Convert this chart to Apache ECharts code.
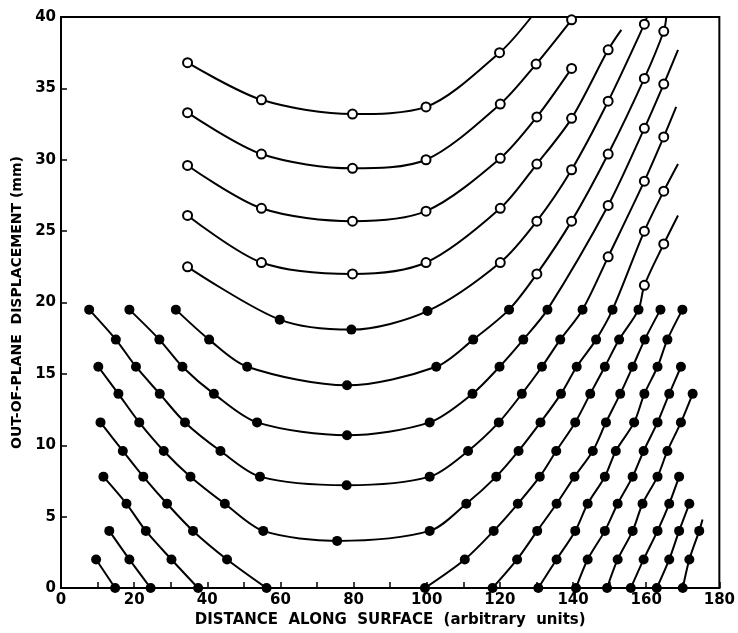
<!DOCTYPE html>
<html>
<head>
<meta charset="utf-8">
<script src="https://cdn.jsdelivr.net/npm/echarts@6/dist/echarts.min.js"></script>
<style>
  html, body { margin: 0; padding: 0; background: #fff; }
  #chart { width: 738px; height: 633px; }
</style>
</head>
<body>
<div id="chart"></div>
<script>
// points, [distance, displacement]
// U-shaped curves (left branch, bottom near 78, right branch)
const u1 = [[34.6, 36.8], [54.8, 34.2], [79.7, 33.2], [99.8, 33.7], [119.9, 37.5]];
const u2 = [[34.6, 33.3], [54.8, 30.4], [79.7, 29.4], [99.8, 30.0], [120.1, 33.9], [129.9, 36.7], [139.6, 39.8]];
const u3 = [[34.6, 29.6], [54.8, 26.6], [79.7, 25.7], [99.8, 26.4], [120.1, 30.1], [130.1, 33.0], [139.6, 36.4]];
const u4 = [[34.6, 26.1], [54.8, 22.8], [79.7, 22.0], [99.8, 22.8], [120.1, 26.6], [130.1, 29.7], [139.6, 32.9], [149.6, 37.7]];
const u5 = [[34.6, 22.5], [59.8, 18.8], [79.4, 18.1], [100.2, 19.4], [120.1, 22.8], [130.1, 25.7], [139.6, 29.3], [149.6, 34.1], [159.5, 39.5]];
const u6 = [[31.4, 19.5], [40.5, 17.4], [50.9, 15.5], [78.2, 14.2], [102.6, 15.5], [112.7, 17.4], [122.5, 19.5],
            [130.1, 22.0], [139.6, 25.7], [149.6, 30.4], [159.5, 35.7], [164.8, 39.0]];
const u7 = [[18.7, 19.5], [26.9, 17.4], [33.2, 15.5], [41.8, 13.6], [53.6, 11.6], [78.2, 10.7], [100.8, 11.6],
            [112.5, 13.6], [119.9, 15.5], [126.4, 17.4], [133.0, 19.5], [149.6, 26.8], [159.5, 32.2], [164.8, 35.3]];
const u8 = [[7.7, 19.5], [15.0, 17.4], [20.5, 15.5], [27.0, 13.6], [33.9, 11.6], [43.6, 9.6], [54.4, 7.8], [78.1, 7.2],
            [100.8, 7.8], [111.3, 9.6], [119.7, 11.6], [126.0, 13.6], [131.5, 15.5], [136.5, 17.4], [142.6, 19.5],
            [149.6, 23.2], [159.5, 28.5], [164.8, 31.6]];
const u9 = [[10.2, 15.5], [15.7, 13.6], [21.4, 11.6], [28.1, 9.6], [35.4, 7.8], [44.8, 5.9], [55.3, 4.0], [75.5, 3.3],
            [100.8, 4.0], [110.8, 5.9], [119.0, 7.8], [125.1, 9.6], [131.1, 11.6], [136.7, 13.6], [141.0, 15.5],
            [146.3, 17.4], [150.8, 19.5], [159.5, 25.0], [164.8, 27.8]];
// curves that dip below the axis: left and right branches
const u10a = [[10.8, 11.6], [16.9, 9.6], [22.5, 7.8], [29.0, 5.9], [36.1, 4.0], [45.4, 2.0], [56.2, 0]];
const u10b = [[99.5, 0], [110.4, 2.0], [118.3, 4.0], [124.9, 5.9], [130.9, 7.8], [135.4, 9.6], [140.6, 11.6],
              [144.7, 13.6], [148.7, 15.5], [152.6, 17.4], [157.9, 19.5], [159.5, 21.2], [164.8, 24.1]];
const g1 = [[11.6, 7.8], [17.9, 5.9], [23.2, 4.0], [30.2, 2.0], [37.5, 0]];
const h1 = [[13.2, 4.0], [18.7, 2.0], [24.5, 0]];
const i1 = [[9.6, 2.0], [14.8, 0]];
const r1 = [[118.0, 0], [124.7, 2.0], [130.2, 4.0], [135.5, 5.9], [140.4, 7.8], [145.4, 9.6], [149.0, 11.6],
            [152.9, 13.6], [156.3, 15.5], [159.6, 17.4], [163.9, 19.5]];
const r2 = [[130.5, 0], [135.5, 2.0], [140.6, 4.0], [144.0, 5.9], [148.7, 7.8], [151.7, 9.6], [156.7, 11.6],
            [159.5, 13.6], [163.1, 15.5], [165.8, 17.4], [169.9, 19.5]];
const r3 = [[140.8, 0], [144.0, 2.0], [148.7, 4.0], [152.2, 5.9], [156.3, 7.8], [159.3, 9.6], [163.1, 11.6],
            [166.3, 13.6], [169.5, 15.5]];
const r4 = [[149.3, 0], [152.2, 2.0], [156.3, 4.0], [159.0, 5.9], [163.1, 7.8], [165.8, 9.6], [169.5, 11.6], [172.7, 13.6]];
const r5 = [[155.8, 0], [159.3, 2.0], [163.1, 4.0], [166.3, 5.9], [169.0, 7.8]];
const r6 = [[162.9, 0], [166.3, 2.0], [169.0, 4.0], [171.8, 5.9]];
const r7 = [[170.0, 0], [171.8, 2.0], [174.5, 4.0]];

// where a line runs on past its last marker
const lineEnds = {
  u1: [128.6, 40], u4: [153.2, 39.1], u5: [160.2, 40], u6: [165.5, 40],
  u7: [168.7, 37.7], u8: [168.2, 33.7], u9: [168.7, 29.7], u10b: [168.7, 26.1], r7: [175.4, 4.8]
};

const curves = { u1, u2, u3, u4, u5, u6, u7, u8, u9, u10a, u10b, g1, h1, i1, r1, r2, r3, r4, r5, r6, r7 };

const font = "DejaVu Sans";

function makeSeries(name, pts) {
  let data = pts.map(function (p) {
    let open = p[1] > 20; // later readings drawn as open circles
    return {
      value: p,
      symbol: "circle",
      symbolSize: open ? 9 : 10,
      itemStyle: {
        color: open ? "#fff" : "#000",
        borderColor: "#000",
        borderWidth: open ? 2 : 0,
      },
    };
  });
  if (lineEnds[name]) {
    data.push({ value: lineEnds[name], symbol: "none" });
  }
  return {
    name: name,
    type: "line",
    data: data,
    smooth: 0.3,
    showSymbol: true,
    showAllSymbol: true,
    clip: false,
    lineStyle: { color: "#000", width: 2 },
    z: 3,
  };
}

const chart = echarts.init(document.getElementById("chart"));
chart.setOption({
  animation: false,
  backgroundColor: "#fff",
  grid: {
    left: 61, right: 18, top: 17, bottom: 44,
    show: true, borderColor: "#000", borderWidth: 2,
  },
  xAxis: {
    type: "value",
    min: 0, max: 180, interval: 20,
    name: "DISTANCE  ALONG  SURFACE  (arbitrary  units)",
    nameLocation: "middle",
    nameGap: 25,
    nameTextStyle: { color: "#000", fontFamily: font, fontWeight: "bold", fontSize: 15 },
    axisLine: { show: true, lineStyle: { color: "#000", width: 2 } },
    axisTick: { show: true, inside: true, length: 6, lineStyle: { color: "#000", width: 1.5 } },
    minorTick: { show: true, splitNumber: 2, length: 6, lineStyle: { color: "#000", width: 1.5 } },
    splitLine: { show: false },
    axisLabel: { color: "#000", fontFamily: font, fontWeight: "bold", fontSize: 15, margin: 5 },
  },
  yAxis: {
    type: "value",
    min: 0, max: 40, interval: 5,
    name: "OUT-OF-PLANE  DISPLACEMENT (mm)",
    nameLocation: "middle",
    nameGap: 33,
    nameTextStyle: { color: "#000", fontFamily: font, fontWeight: "bold", fontSize: 14 },
    axisLine: { show: true, lineStyle: { color: "#000", width: 2 } },
    axisTick: { show: true, inside: true, length: 6, lineStyle: { color: "#000", width: 1.5 } },
    splitLine: { show: false },
    axisLabel: { color: "#000", fontFamily: font, fontWeight: "bold", fontSize: 15, margin: 5 },
  },
  series: Object.keys(curves).map(function (k) { return makeSeries(k, curves[k]); }),
});
</script>
</body>
</html>
